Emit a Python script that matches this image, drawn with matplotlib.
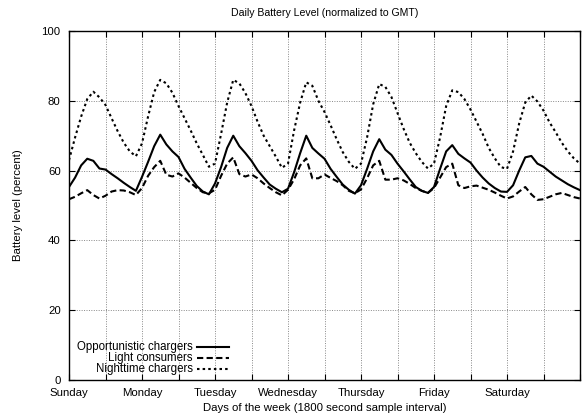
import matplotlib
matplotlib.use("Agg")
import matplotlib.pyplot as plt
from matplotlib.lines import Line2D

plt.rcParams['font.family'] = ['Liberation Sans', 'DejaVu Sans']

hours = list(range(0, 170, 2))

opportunistic = [
    55.3, 58.0, 61.5, 63.4, 62.8, 60.6, 60.3, 59.0, 57.8, 56.5, 55.3, 54.2,
    58.2, 62.5, 67.0, 70.3, 67.5, 65.5, 63.9, 60.5, 58.0, 55.6, 54.0, 53.2,
    56.3, 61.0, 66.5, 70.0, 67.0, 65.0, 62.8, 60.1, 58.0, 56.0, 54.8, 53.8,
    54.8, 59.5, 65.0, 70.0, 66.5, 64.9, 63.4, 60.5, 58.2, 56.0, 54.5, 53.4,
    55.8, 60.5, 65.5, 69.0, 66.0, 64.5, 62.0, 59.8, 57.5, 55.3, 54.2, 53.6,
    55.3, 60.5, 65.5, 67.3, 64.8, 63.5, 62.3, 60.0, 58.0, 56.3, 55.0, 54.0,
    53.9, 55.8, 60.0, 63.8, 64.2, 62.0, 61.1, 59.7, 58.3, 57.2, 56.1, 55.2,
    54.4,
]

light = [
    51.8, 52.5, 53.5, 54.4, 53.0, 52.0, 52.8, 54.0, 54.4, 54.3, 53.8, 53.0,
    55.0, 58.5, 61.0, 62.8, 58.8, 58.3, 59.2, 58.0, 56.5, 55.0, 53.8, 53.5,
    54.5, 58.5, 62.0, 63.8, 59.0, 58.3, 58.9, 57.8, 56.3, 55.0, 53.8, 52.9,
    54.5, 57.5, 61.5, 63.5, 57.8, 57.8, 58.9, 57.9, 57.0, 55.8, 54.2, 53.5,
    54.6, 57.8, 61.5, 62.8, 57.4, 57.4, 57.8, 57.2, 56.2, 55.0, 54.2, 53.6,
    55.0, 58.0, 61.0, 62.0, 55.8, 55.0, 55.5, 55.7, 55.1, 54.5, 53.7, 52.8,
    52.0, 52.6, 54.0, 55.3, 53.2, 51.6, 51.8, 52.5, 53.2, 53.6, 53.0, 52.4,
    52.0,
]

nighttime = [
    63.0, 69.5, 75.5, 80.5, 82.6, 81.0, 78.8, 75.0, 71.3, 68.0, 65.5, 64.1,
    67.8, 75.5, 82.5, 86.0, 85.0, 82.3, 78.5, 75.0, 71.5, 67.8, 64.5, 61.1,
    62.0, 70.5, 79.5, 86.0, 85.0, 82.2, 78.5, 74.0, 70.0, 67.0, 64.0, 60.8,
    62.0, 71.5, 79.5, 85.3, 84.3, 80.0, 76.8, 73.0, 69.0, 65.3, 62.5, 60.5,
    62.0, 69.5, 79.0, 84.8, 84.0, 81.1, 76.5, 72.0, 68.0, 65.0, 62.5, 60.6,
    62.0, 69.5, 78.5, 83.0, 82.5, 80.5, 77.5, 74.0, 70.5, 66.5, 63.5, 61.0,
    60.5, 65.5, 73.5, 79.5, 81.5, 79.8, 77.2, 73.8, 71.0, 68.0, 65.5, 63.5,
    62.0,
]

day_labels = ["Sunday", "", "Monday", "", "Tuesday", "", "Wednesday", "",
              "Thursday", "", "Friday", "", "Saturday", "", ""]
series_names = ["Opportunistic chargers", "Light consumers", "Nighttime chargers"]

fig = plt.figure(figsize=(5.86, 4.19), dpi=100)
ax = fig.add_axes([69/586, 1-380/419, (580-69)/586, (380-31)/419])

styles = [dict(ls='-', lw=1.5), dict(ls=(0, (3, 1.6)), lw=1.5), dict(ls=(0, (1.2, 1.5)), lw=1.5)]
for vals, st in zip([opportunistic, light, nighttime], styles):
    ax.plot(hours, vals, color='black', **st)

ax.set_xlim(0, 168)
ax.set_ylim(0, 100)
ax.set_xticks(range(0, 169, 12))
ax.set_xticklabels(day_labels)
ax.set_yticks(range(0, 101, 20))
ax.grid(True, color='#888888', ls=(0, (1, 1.5)), lw=0.7)
ax.tick_params(direction='in', top=True, right=True, length=4, labelsize=8.2, width=0.8, pad=6)
for s in ax.spines.values():
    s.set_linewidth(1.0)

ax.set_title("Daily Battery Level (normalized to GMT)", fontsize=7.6, pad=11)
ax.set_xlabel("Days of the week (1800 second sample interval)", fontsize=8.2, labelpad=3)
ax.set_ylabel("Battery level (percent)", fontsize=8.2, labelpad=13)

# gnuplot-style key: right-aligned text followed by line sample
key_y = [347, 358, 369]
for name, y, st in zip(series_names, key_y, styles):
    yf = 1 - y/419
    fig.text(193/586, yf, name, ha='right', va='center', fontsize=8.3)
    fig.add_artist(Line2D([197/586, 229/586], [yf, yf], color='black',
                          transform=fig.transFigure, **st))

fig.savefig("out.png", dpi=100)
